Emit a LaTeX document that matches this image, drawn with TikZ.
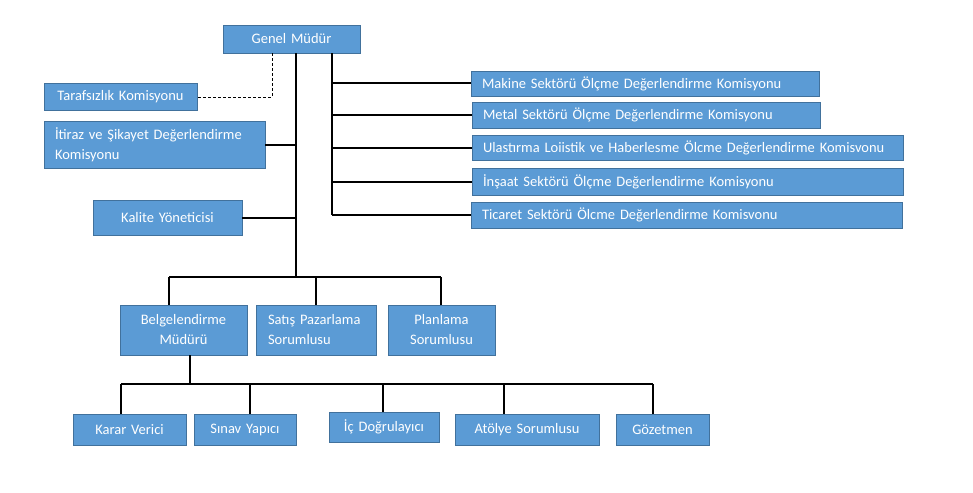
\documentclass[tikz,border=0pt]{standalone}
\usepackage{fontspec}
\setmainfont{Carlito}
\definecolor{boxcol}{HTML}{5B9BD5}
\definecolor{bordcol}{HTML}{41719C}
\tikzset{
  box/.style={draw=bordcol, fill=boxcol, text=white, line width=0.8pt,
    inner xsep=0pt, inner ysep=0pt, font=\fontsize{14.5}{20}\selectfont},
  conn/.style={draw=black, line width=2pt},
  dconn/.style={draw=black, line width=0.9pt, dash pattern=on 3pt off 2pt}
}
\begin{document}
\begin{tikzpicture}[x=1pt, y=-1pt]
\useasboundingbox[fill=white] (0,0) rectangle (973,492);
% top
\node[box, minimum width=137pt, minimum height=28pt, text width=137pt, align=center] (gm) at (291.5,39) {Genel Müdür};
\node[box, minimum width=153pt, minimum height=27pt, text width=153pt, align=center] (taraf) at (120.5,96.5) {Tarafsızlık Komisyonu};
\node[box, minimum width=221pt, minimum height=47pt, text width=199pt, align=left] (itiraz) at (154.5,144.5) {İtiraz ve Şikayet Değerlendirme\\Komisyonu};
\node[box, minimum width=149pt, minimum height=35pt, text width=149pt, align=center] (kal) at (167.5,217.5) {Kalite Yöneticisi};
% right
\node[box, minimum width=348pt, minimum height=25pt, text width=326pt, align=left] (mak) at (645,83.5) {Makine Sektörü Ölçme Değerlendirme Komisyonu};
\node[box, minimum width=348pt, minimum height=26pt, text width=326pt, align=left] (met) at (646,115) {Metal Sektörü Ölçme Değerlendirme Komisyonu};
\node[box, minimum width=431pt, minimum height=25pt, text width=409pt, align=left] (ula) at (687.5,147.5) {Ulastırma Loiistik ve Haberlesme Ölcme Değerlendirme Komisvonu};
\node[box, minimum width=431pt, minimum height=27pt, text width=409pt, align=left] (ins) at (687.5,181.5) {İnşaat Sektörü Ölçme Değerlendirme Komisyonu};
\node[box, minimum width=431pt, minimum height=26pt, text width=409pt, align=left] (tic) at (686.5,215) {Ticaret Sektörü Ölcme Değerlendirme Komisvonu};
% middle
\node[box, minimum width=127pt, minimum height=50pt, text width=127pt, align=center] (bel) at (183.5,330) {Belgelendirme\\Müdürü};
\node[box, minimum width=120pt, minimum height=50pt, text width=96pt, align=left] (sat) at (316,330) {Satış Pazarlama\\Sorumlusu};
\node[box, minimum width=107pt, minimum height=50pt, text width=107pt, align=center] (pla) at (441.5,330) {Planlama\\Sorumlusu};
% bottom
\node[box, minimum width=113pt, minimum height=31pt, text width=113pt, align=center] (kar) at (129.5,429.5) {Karar Verici};
\node[box, minimum width=102pt, minimum height=31pt, text width=102pt, align=center] (sin) at (245,429.5) {Sınav Yapıcı};
\node[box, minimum width=110pt, minimum height=30pt, text width=110pt, align=center] (ic) at (384,427) {İç Doğrulayıcı};
\node[box, minimum width=144pt, minimum height=31pt, text width=144pt, align=center] (ato) at (527,429.5) {Atölye Sorumlusu};
\node[box, minimum width=93pt, minimum height=31pt, text width=93pt, align=center] (goz) at (662.5,429.5) {Gözetmen};
% coordinates
\coordinate (dv) at (272,97);
\coordinate (tr) at (296,277);
\coordinate (rv) at (332,53);
\coordinate (d1) at (169,277);
\coordinate (d2) at (316,277);
\coordinate (d3) at (441,277);
\coordinate (bs) at (190,384);
\coordinate (e1) at (121,384);
\coordinate (e2) at (250,384);
\coordinate (e3) at (383,384);
\coordinate (e4) at (504,384);
\coordinate (e5) at (653,384);
% dashed
\draw[dconn] (gm.south -| dv) -- (dv) -- (dv -| taraf.east);
% trunk
\draw[conn] (gm.south -| tr) -- (tr);
\draw[conn] (itiraz.east) -- (itiraz.east -| tr);
\draw[conn] (kal.east) -- (kal.east -| tr);
% right
\draw[conn] (gm.south -| rv) -- (rv |- tic.west);
\draw[conn] (rv |- mak.west) -- (mak.west);
\draw[conn] (rv |- met.west) -- (met.west);
\draw[conn] (rv |- ula.west) -- (ula.west);
\draw[conn] (rv |- ins.west) -- (ins.west);
\draw[conn] (rv |- tic.west) -- (tic.west);
% middle bus
\draw[conn] (d1) -- (d3);
\draw[conn] (d1) -- (d1 |- bel.north);
\draw[conn] (d2) -- (d2 |- sat.north);
\draw[conn] (d3) -- (d3 |- pla.north);
% bottom bus
\draw[conn] (bs |- bel.south) -- (bs);
\draw[conn] (e1) -- (e5);
\draw[conn] (e1) -- (e1 |- kar.north);
\draw[conn] (e2) -- (e2 |- sin.north);
\draw[conn] (e3) -- (e3 |- ic.north);
\draw[conn] (e4) -- (e4 |- ato.north);
\draw[conn] (e5) -- (e5 |- goz.north);
\end{tikzpicture}
\end{document}
